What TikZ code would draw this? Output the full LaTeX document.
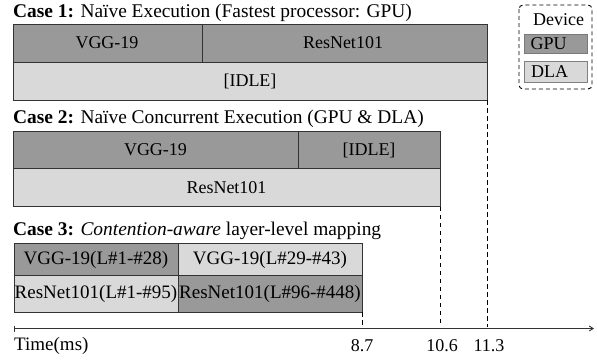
\documentclass[tikz,border=0pt]{standalone}
\usepackage{fontspec}
\setmainfont{Liberation Serif}
\usetikzlibrary{arrows.meta}
\definecolor{gpucol}{gray}{0.6}
\definecolor{dlacol}{gray}{0.85}
\definecolor{edgecol}{gray}{0.2}
\tikzset{
  bar/.style={draw=edgecol, line width=0.8pt, inner sep=0pt, outer sep=0pt},
  gpubar/.style={bar, fill=gpucol},
  dlabar/.style={bar, fill=dlacol},
  lbl/.style={font=\fontsize{18}{20}\selectfont, text=black},
  lblb/.style={font=\fontsize{19}{21}\selectfont, text=black},
  vguide/.style={draw=black, line width=0.9pt, dash pattern=on 4.5pt off 3.5pt},
  ttlb/.style={font=\fontsize{19.4}{21}\selectfont, anchor=west, inner sep=0pt},
}
\begin{document}
\begin{tikzpicture}[x=1pt,y=-1pt]
\useasboundingbox (0,0) rectangle (597,360);
% Case 1
\node[ttlb] (t1) at (13,12.5) {\textbf{Case 1:} Naïve Execution (Fastest processor: GPU)};
\draw[gpubar] (13,24) rectangle (202,62);
\draw[gpubar] (202,24) rectangle (487,62);
\draw[dlabar] (13,62) rectangle (487,100);
\node[lbl] (c1a) at (107,43) {VGG-19};
\node[lbl] (c1b) at (343,43) {ResNet101};
\node[lbl] (c1c) at (250,81) {[IDLE]};
\coordinate (c1end) at (487,100);
% Case 2
\node[ttlb] (t2) at (13,118.5) {\textbf{Case 2:} Naïve Concurrent Execution (GPU \& DLA)};
\draw[gpubar] (13,131) rectangle (298,168.5);
\draw[gpubar] (298,131) rectangle (440,168.5);
\draw[dlabar] (13,168.5) rectangle (440,206.5);
\node[lbl] (c2a) at (155.5,150) {VGG-19};
\node[lbl] (c2b) at (369,150) {[IDLE]};
\node[lbl] (c2c) at (226.5,188) {ResNet101};
\coordinate (c2end) at (440,206.5);
% Case 3
\node[ttlb] (t3) at (13,230.5) {\textbf{Case 3:} \textit{Contention-aware} layer-level mapping};
\draw[gpubar] (14,243) rectangle (178,275);
\draw[dlabar] (178,243) rectangle (362,275);
\draw[dlabar] (14,275) rectangle (178,312);
\draw[gpubar] (178,275) rectangle (362,312);
\node[lblb] (c3a) at (96,259.5) {VGG-19(L\#1-\#28)};
\node[lblb] (c3b) at (270,259.5) {VGG-19(L\#29-\#43)};
\node[lblb] (c3c) at (96,294) {ResNet101(L\#1-\#95)};
\node[lblb] (c3d) at (270,294) {ResNet101(L\#96-\#448)};
\coordinate (c3end) at (362,312);
% Axis
\coordinate (ax0) at (14,328.5);
\coordinate (ax1) at (594,328.5);
\draw[draw=edgecol, line width=0.9pt, -{Straight Barb[length=4pt,width=5pt]}] (ax0) -- (ax1);
\draw[draw=edgecol, line width=0.9pt] (14,325.5) -- (14,331.5);
\coordinate (a87) at (362,328.5);
\coordinate (a106) at (440,328.5);
\coordinate (a113) at (487,328.5);
\draw[vguide] (c3end) -- ([yshift=2pt]a87);
\draw[vguide] (c2end) -- ([yshift=2pt]a106);
\draw[vguide] (c1end) -- ([yshift=2pt]a113);
\node[lbl] (l87) at (362,346) {8.7};
\node[lbl] (l106) at (442,346) {10.6};
\node[lbl] (l113) at (489,346) {11.3};
\node[lblb, anchor=west, inner sep=0pt] (tm) at (14,346) {Time(ms)};
% Legend
\draw[draw=black, line width=0.9pt, dash pattern=on 4pt off 3pt, rounded corners=4pt] (519,5) rectangle (592,89);
\node[lbl] (dev) at (558.5,20) {Device};
\draw[gpubar, draw=gpucol!80!black, line width=0.5pt] (524,34) rectangle (587,53);
\node[lbl, anchor=west, inner sep=0pt] (gpu) at (530.5,43.5) {GPU};
\draw[dlabar, draw=gray, line width=0.5pt] (524,61) rectangle (587,82);
\node[lbl, anchor=west, inner sep=0pt] (dla) at (531,71.5) {DLA};
\end{tikzpicture}
\end{document}
